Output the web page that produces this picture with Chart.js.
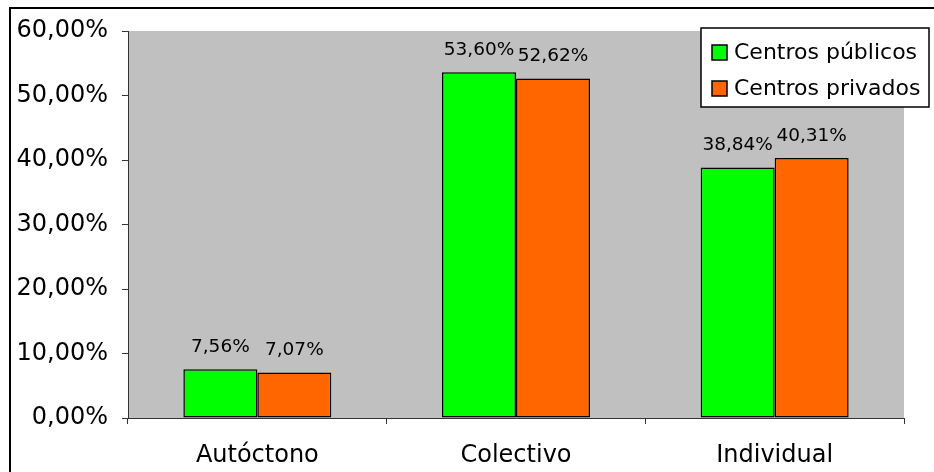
<!DOCTYPE html>
<html>
<head>
<meta charset="utf-8">
<script src="https://cdn.jsdelivr.net/npm/chart.js@4"></script>
<style>
html,body{margin:0;padding:0;background:#fff;}
canvas{display:block;}
</style>
</head>
<body>
<canvas id="c" width="934" height="472"></canvas>
<script>
const categories = ['Autóctono', 'Colectivo', 'Individual'];
const seriesNames = ['Centros públicos', 'Centros privados'];
const publicos = [7.56, 53.60, 38.84];
const privados = [7.07, 52.62, 40.31];
const yTickValues = [0, 10, 20, 30, 40, 50, 60];
const yTickLabels = ['0,00%', '10,00%', '20,00%', '30,00%', '40,00%', '50,00%', '60,00%'];
const colors = ['#00FF00', '#FF6600'];

const FONT = 'DejaVu Sans';

function fmt(v) { return v.toFixed(2).replace('.', ',') + '%'; }

const bgPlugin = {
  id: 'bg',
  beforeDraw(chart) {
    const ctx = chart.ctx, a = chart.chartArea;
    ctx.save();
    ctx.fillStyle = '#fff';
    ctx.fillRect(0, 0, chart.width, chart.height);
    ctx.fillStyle = '#C0C0C0';
    ctx.fillRect(a.left, a.top, a.right - a.left, a.bottom - a.top);
    ctx.strokeStyle = '#000';
    ctx.lineWidth = 2;
    ctx.strokeRect(10, 8, chart.width + 20, chart.height + 20);
    ctx.restore();
  }
};

const labelPlugin = {
  id: 'vlabels',
  afterDatasetsDraw(chart) {
    const ctx = chart.ctx;
    ctx.save();
    ctx.font = '18.5px "' + FONT + '"';
    ctx.fillStyle = '#000';
    ctx.textAlign = 'center';
    ctx.textBaseline = 'middle';
    chart.data.datasets.forEach((ds, i) => {
      chart.getDatasetMeta(i).data.forEach((bar, j) => {
        ctx.fillText(fmt(ds.data[j]), bar.x, bar.y - 22);
      });
    });
    ctx.restore();
  }
};

const legendPlugin = {
  id: 'boxlegend',
  afterDraw(chart) {
    const ctx = chart.ctx;
    const x0 = 701, y0 = 28, w = 228, h = 79;
    ctx.save();
    ctx.fillStyle = '#fff';
    ctx.fillRect(x0, y0, w, h);
    ctx.strokeStyle = '#000';
    ctx.lineWidth = 1.5;
    ctx.strokeRect(x0, y0, w, h);
    ctx.font = '22px "' + FONT + '"';
    ctx.textBaseline = 'middle';
    ctx.textAlign = 'left';
    chart.data.datasets.forEach((ds, i) => {
      const cy = 52 + i * 36;
      ctx.fillStyle = ds.backgroundColor;
      ctx.fillRect(712, cy - 7, 15, 15);
      ctx.lineWidth = 1.5;
      ctx.strokeStyle = '#000';
      ctx.strokeRect(712, cy - 7, 15, 15);
      ctx.fillStyle = '#000';
      ctx.fillText(ds.label, 734, cy + 1);
    });
    ctx.restore();
  }
};

new Chart(document.getElementById('c'), {
  type: 'bar',
  data: {
    labels: categories,
    datasets: [
      { label: seriesNames[0], data: publicos, backgroundColor: colors[0], borderColor: '#000', borderWidth: 1.5, borderSkipped: false, categoryPercentage: 0.572, barPercentage: 1.0 },
      { label: seriesNames[1], data: privados, backgroundColor: colors[1], borderColor: '#000', borderWidth: 1.5, borderSkipped: false, categoryPercentage: 0.572, barPercentage: 1.0 }
    ]
  },
  options: {
    responsive: false,
    animation: false,
    devicePixelRatio: 1,
    layout: { padding: { top: 31, right: 30, left: 0, bottom: 0 } },
    plugins: { legend: { display: false }, tooltip: { enabled: false } },
    scales: {
      x: {
        afterFit(s) { s.height = 54; },
        grid: { display: true, drawOnChartArea: false, drawTicks: true, tickLength: 6, color: '#333', offset: true },
        border: { display: true, color: '#333', width: 1 },
        ticks: { color: '#000', font: { family: FONT, size: 24 }, padding: 17, maxRotation: 0 }
      },
      y: {
        min: 0, max: 60,
        afterFit(s) { s.width = 128; },
        afterBuildTicks(s) { s.ticks = yTickValues.map(v => ({ value: v })); },
        grid: { display: true, drawOnChartArea: false, drawTicks: true, tickLength: 6, color: '#333' },
        border: { display: true, color: '#333', width: 1 },
        ticks: {
          color: '#000', font: { family: FONT, size: 24 }, padding: 14,
          callback: (v) => yTickLabels[yTickValues.indexOf(v)]
        }
      }
    }
  },
  plugins: [bgPlugin, labelPlugin, legendPlugin]
});
</script>
</body>
</html>
